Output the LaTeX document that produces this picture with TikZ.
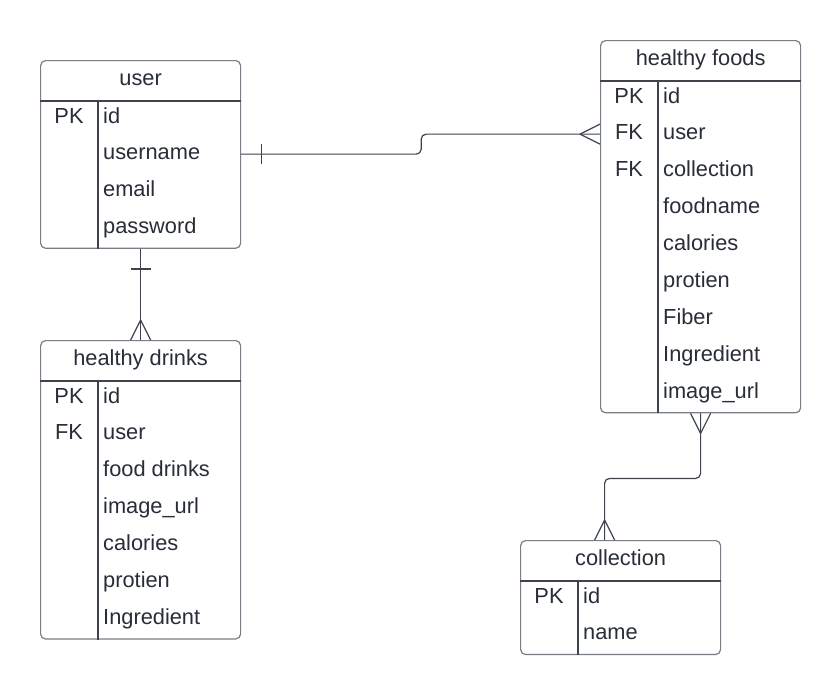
\documentclass[tikz,border=0pt]{standalone}
\usepackage{fontspec}
\setmainfont{Liberation Sans}
\definecolor{ink}{RGB}{40,45,55}
\definecolor{rim}{RGB}{120,126,134}
\definecolor{wire}{RGB}{62,67,76}
\tikzset{
  entity/.style={draw=rim, line width=1.2pt, rounded corners=5pt, fill=white, inner sep=0pt, anchor=north west, minimum width=200pt},
  rule/.style={draw=wire, line width=1.1pt},
  link/.style={draw=wire, line width=1.2pt, rounded corners=5pt},
  title/.style={anchor=base, inner sep=0pt, text=ink},
  keytext/.style={anchor=base, inner sep=0pt, text=ink},
  field/.style={anchor=base west, inner sep=0pt, text=ink},
  crow/.pic={\draw[link] (-20pt,0pt) -- (0pt,10pt) (-20pt,0pt) -- (0pt,-10pt);},
  tick/.pic={\draw[link] (-20pt,-10pt) -- (-20pt,10pt);}
}
\begin{document}
\begin{tikzpicture}[x=1pt, y=-1pt, font=\fontsize{21.8}{26}\selectfont]
    \useasboundingbox (0,0) rectangle (840,694);
    %% Tables
    \node[entity, minimum height=187.7pt] (user) at (40,60) {};
    \node[entity, minimum height=298.4pt] (drinks) at (40,340) {};
    \node[entity, minimum height=372.2pt] (foods) at (600,40) {};
    \node[entity, minimum height=113.9pt] (coll) at (520,540) {};
    %% Header lines and dividers
    \foreach \t in {user,drinks,foods,coll}{
        \draw[rule] ([yshift=-41pt]\t.north west) -- ([yshift=-41pt]\t.north east);
        \draw[rule] ([xshift=58pt,yshift=-41pt]\t.north west) -- ([xshift=58pt]\t.south west);
    }
    %% Titles
    \node[title] (user-t) at ([yshift=-25pt]user.north) {user};
    \node[title] (drinks-t) at ([yshift=-25pt]drinks.north) {healthy drinks};
    \node[title] (foods-t) at ([yshift=-25pt]foods.north) {healthy foods};
    \node[title] (coll-t) at ([yshift=-25pt]coll.north) {collection};
    %% Keys
    \node[keytext] (user-k0) at ([xshift=29pt,yshift=-63pt]user.north west) {PK};
    \foreach \k [count=\i from 0] in {PK,FK}
        \node[keytext] (drinks-k\i) at ([xshift=29pt,yshift=-63pt-\i*36.9pt]drinks.north west) {\k};
    \foreach \k [count=\i from 0] in {PK,FK,FK}
        \node[keytext] (foods-k\i) at ([xshift=29pt,yshift=-63pt-\i*36.9pt]foods.north west) {\k};
    \node[keytext] (coll-k0) at ([xshift=29pt,yshift=-63pt]coll.north west) {PK};
    %% Fields
    \foreach \f [count=\i from 0] in {id,username,email,password}
        \node[field] (user-f\i) at ([xshift=63pt,yshift=-63pt-\i*36.9pt]user.north west) {\f};
    \foreach \f [count=\i from 0] in {id,user,food drinks,image\_url,calories,protien,Ingredient}
        \node[field] (drinks-f\i) at ([xshift=63pt,yshift=-63pt-\i*36.9pt]drinks.north west) {\f};
    \foreach \f [count=\i from 0] in {id,user,collection,foodname,calories,protien,Fiber,Ingredient,image\_url}
        \node[field] (foods-f\i) at ([xshift=63pt,yshift=-63pt-\i*36.9pt]foods.north west) {\f};
    \foreach \f [count=\i from 0] in {id,name}
        \node[field] (coll-f\i) at ([xshift=63pt,yshift=-63pt-\i*36.9pt]coll.north west) {\f};
    %% Relations
    \draw[link] (user.east |- user-f1) -- ++(180,0) |- (foods.west |- foods-f1);
    \pic[rotate=180] at (user.east |- user-f1) {tick};
    \pic at (foods.west |- foods-f1) {crow};
    \draw[link] (user.south) -- (drinks.north);
    \pic[rotate=90] at (user.south) {tick};
    \pic[rotate=-90] at (drinks.north) {crow};
    \coordinate (coll-in) at ([xshift=-16pt]coll.north);
    \draw[link] (foods.south) -- ++(0,65) -| (coll-in);
    \pic[rotate=90] at (foods.south) {crow};
    \pic[rotate=-90] at (coll-in) {crow};
\end{tikzpicture}
\end{document}
